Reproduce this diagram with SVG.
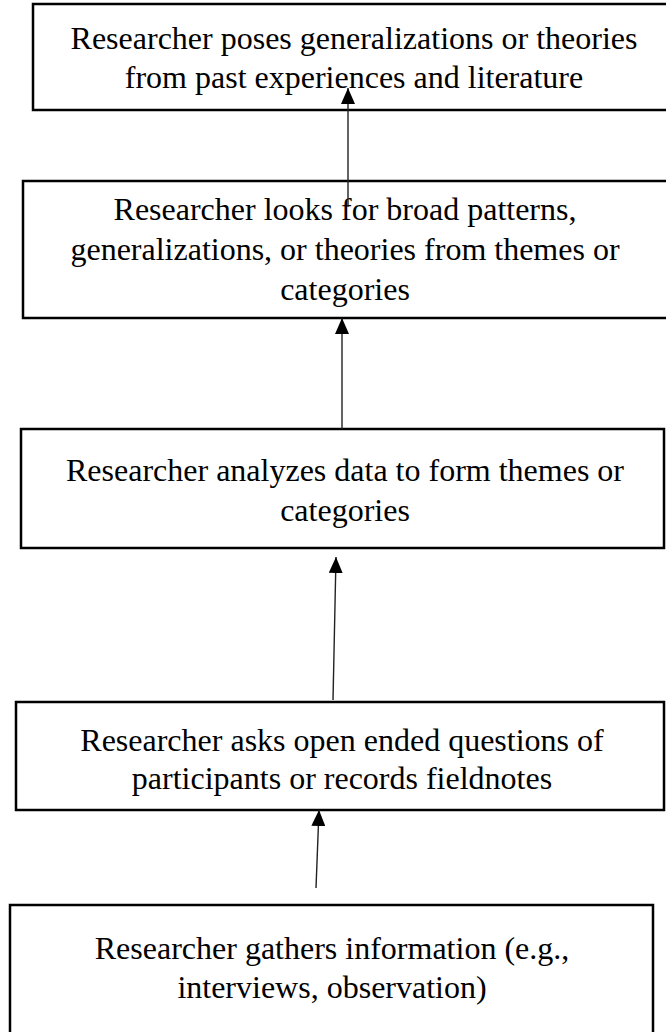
<svg xmlns="http://www.w3.org/2000/svg" width="666" height="1032" viewBox="0 0 666 1032">
  <style>
    .box { fill: #ffffff; stroke: #000000; stroke-width: 2.5; }
    .label { font-family: "Liberation Serif", "Times New Roman", serif; font-size: 32px; fill: #000000; text-anchor: middle; }
    .link { stroke: #222222; stroke-width: 1.4; fill: none; }
  </style>
  <defs>
    <marker id="head" viewBox="0 0 16 14" refX="16" refY="7" markerWidth="16" markerHeight="14" markerUnits="userSpaceOnUse" orient="auto">
      <path d="M0,0 L16,7 L0,14 Z" fill="#000000"/>
    </marker>
  </defs>
  <rect width="666" height="1032" fill="#ffffff"/>

  <g id="node-theories">
    <rect class="box" x="33" y="4" width="640" height="106"/>
    <text class="label" x="354" y="49">Researcher poses generalizations or theories</text>
    <text class="label" x="354" y="88">from past experiences and literature</text>
  </g>

  <g id="node-patterns">
    <rect class="box" x="23" y="181" width="650" height="137"/>
    <text class="label" x="345" y="220">Researcher looks for broad patterns,</text>
    <text class="label" x="345" y="260">generalizations, or theories from themes or</text>
    <text class="label" x="345" y="300">categories</text>
  </g>

  <g id="node-themes">
    <rect class="box" x="21" y="429" width="643" height="119"/>
    <text class="label" x="345" y="481">Researcher analyzes data to form themes or</text>
    <text class="label" x="345" y="521">categories</text>
  </g>

  <g id="node-questions">
    <rect class="box" x="16" y="702" width="648" height="108"/>
    <text class="label" x="342" y="751">Researcher asks open ended questions of</text>
    <text class="label" x="342" y="789">participants or records fieldnotes</text>
  </g>

  <g id="node-gather">
    <rect class="box" x="10" y="905" width="643" height="130"/>
    <text class="label" x="332" y="959">Researcher gathers information (e.g.,</text>
    <text class="label" x="332" y="998">interviews, observation)</text>
  </g>

  <g id="connectors">
    <line class="link" x1="348" y1="207" x2="348" y2="88" marker-end="url(#head)"/>
    <line class="link" x1="342" y1="429" x2="342" y2="318" marker-end="url(#head)"/>
    <line class="link" x1="333" y1="700" x2="336" y2="557" marker-end="url(#head)"/>
    <line class="link" x1="316" y1="888" x2="319" y2="810" marker-end="url(#head)"/>
  </g>
</svg>
